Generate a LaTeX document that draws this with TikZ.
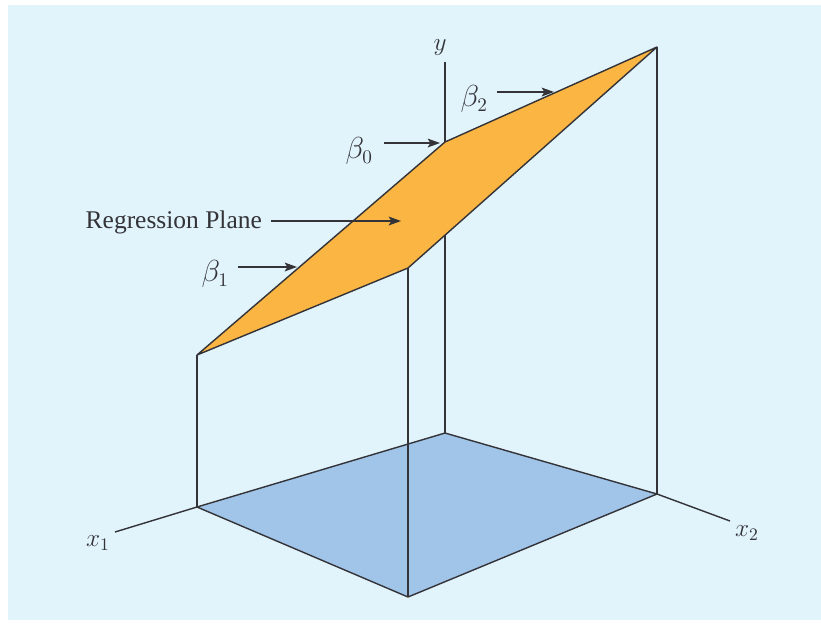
\documentclass[tikz,border=0pt]{standalone}
\usepackage{fontspec}
\setmainfont{Liberation Serif}
\usepackage{tikz}
\usetikzlibrary{arrows.meta,positioning}
\definecolor{regsky}{HTML}{E1F3FB}
\definecolor{regorange}{HTML}{FBB542}
\definecolor{regfloor}{HTML}{A0C5E9}
\definecolor{regline}{HTML}{333338}

\begin{document}
\begin{tikzpicture}[
    x=0.02cm,y=-0.02cm,
    edge/.style = {draw=regline,line width=0.8pt,line join=round},
    pt/.style   = {-{Stealth[length=7pt,width=5pt,inset=1.5pt]},regline,line width=0.8pt},
    lbl/.style  = {font=\fontsize{14.5}{17}\selectfont,inner sep=1pt,text=regline},
    glbl/.style = {font=\fontsize{16}{18}\selectfont,inner sep=1pt,text=regline},
  ]
  \useasboundingbox (0,0) rectangle (821,623);
  \fill[regsky] (8,5) rectangle (821,620);

  % corners of the floor and of the plane
  \coordinate (fb) at (445,433);
  \coordinate (fl) at (197,507);
  \coordinate (ff) at (408,597);
  \coordinate (fr) at (657,494);
  \coordinate (pb) at (445,142);
  \coordinate (pl) at (197,355);
  \coordinate (pf) at (408,268);
  \coordinate (pr) at (657,47);
  \coordinate (ytop) at (445,62);
  \coordinate (xone) at (115,532);
  \coordinate (xtwo) at (730,521);

  \filldraw[edge,fill=regfloor] (fb) -- (fl) -- (ff) -- (fr) -- cycle;
  \draw[edge] (fl) -- (xone);
  \draw[edge] (fr) -- (xtwo);
  \draw[edge] (ytop) -- (fb);
  \foreach \a/\b in {pl/fl,pr/fr} \draw[edge] (\a) -- (\b);
  \filldraw[edge,fill=regorange] (pb) -- (pl) -- (pf) -- (pr) -- cycle;
  \draw[edge] (pf) -- (ff);

  \node[lbl] (ylab) at (440,48) {$y$};
  \node[lbl] (x1lab) at (98,543) {$x_1$};
  \node[lbl] (x2lab) at (747,533) {$x_2$};

  % pointers
  \coordinate (b0tip) at (440,143);
  \coordinate (b2tip) at (554,92);
  \coordinate (rptip) at (401,221);
  \coordinate (b1tip) at (297,267);

  \node[glbl,anchor=east] (b0) at (375,151) {$\beta_0$};
  \node[glbl,anchor=east] (b2) at (490,99)  {$\beta_2$};
  \node[lbl,anchor=east]  (rp) at (264,222) {Regression Plane};
  \node[glbl,anchor=east] (b1) at (231,274) {$\beta_1$};

  \draw[pt] ([xshift=5pt]b0.east |- b0tip) -- (b0tip);
  \draw[pt] ([xshift=4pt]b2.east |- b2tip) -- (b2tip);
  \draw[pt] ([xshift=4pt]rp.east |- rptip) -- (rptip);
  \draw[pt] ([xshift=4pt]b1.east |- b1tip) -- (b1tip);

\end{tikzpicture}
\end{document}
